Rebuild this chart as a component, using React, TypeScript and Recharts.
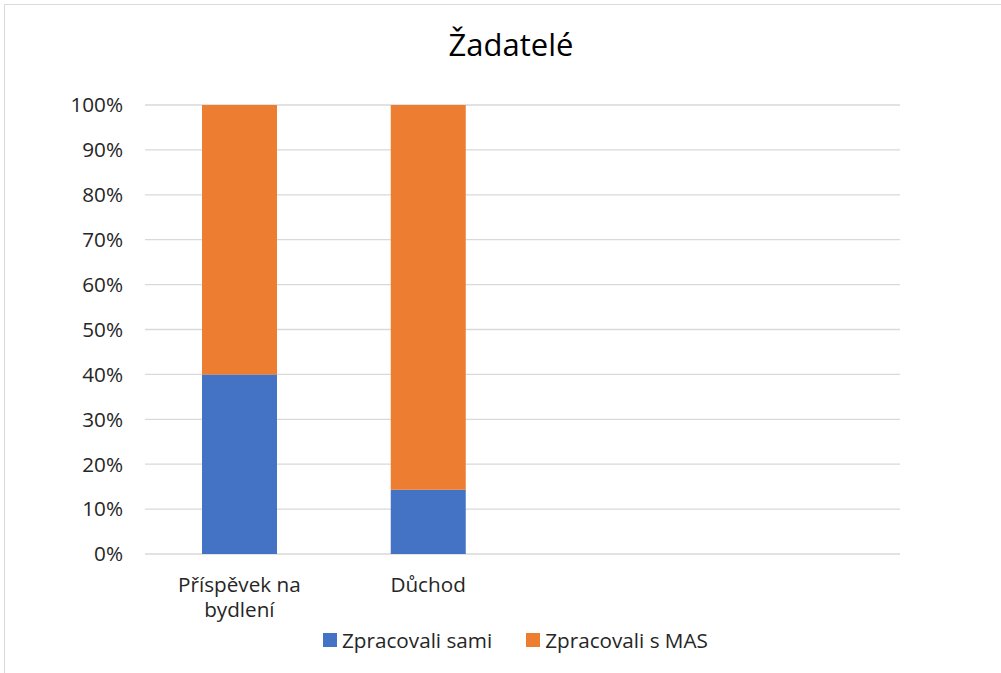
import { BarChart, Bar, XAxis, YAxis, CartesianGrid } from 'recharts';

const categories = ['Příspěvek na bydlení', 'Důchod', ' ', '  '];
const xTickLines = [['Příspěvek na', 'bydlení'], ['Důchod'], [], []];
const samiValues = [40, 14.3, null, null];
const masValues = [60, 85.7, null, null];
const yTicks = [0, 10, 20, 30, 40, 50, 60, 70, 80, 90, 100];
const seriesNames = ['Zpracovali sami', 'Zpracovali s MAS'];
const seriesColors = ['#4472C4', '#ED7D31'];

const FONT = '"Open Sans", sans-serif';
const TEXT = '#262626';
const FS = 20.7;

const data = categories.map((name, i) => ({
  name,
  sami: samiValues[i],
  mas: masValues[i],
}));

function XTick({ x, y, payload, index }: any) {
  const lines = xTickLines[payload?.index ?? index] || [];
  return (
    <text x={x} y={y} textAnchor="middle" fontSize={FS} fill={TEXT} fontFamily={FONT}>
      {lines.map((line, i) => (
        <tspan key={i} x={x} dy={i === 0 ? 30 : 25}>
          {line}
        </tspan>
      ))}
    </text>
  );
}

export default function App() {
  return (
    <div
      style={{
        position: 'absolute',
        left: 0,
        top: 0,
        width: 1001,
        height: 673,
        overflow: 'hidden',
        background: '#fff',
        fontFamily: FONT,
      }}
    >
      <div
        style={{
          position: 'absolute',
          left: 4,
          top: 4,
          width: 1030,
          height: 700,
          border: '1px solid #d9d9d9',
        }}
      />
      <div
        style={{
          position: 'absolute',
          left: 311,
          width: 400,
          top: 24,
          textAlign: 'center',
          fontSize: 31,
          color: '#000',
          lineHeight: '40px',
        }}
      >
        Žadatelé
      </div>
      <div style={{ position: 'absolute', left: 0, top: 0 }}>
        <BarChart
          width={1001}
          height={673}
          data={data}
          margin={{ top: 105, right: 101, bottom: 0, left: 0 }}
          barSize={75}
        >
          <CartesianGrid vertical={false} stroke="#d9d9d9" strokeWidth={1.3} />
          <XAxis
            dataKey="name"
            height={119}
            axisLine={false}
            tickLine={false}
            interval={0}
            tick={<XTick />}
          />
          <YAxis
            width={145}
            domain={[0, 100]}
            ticks={yTicks}
            interval={0}
            axisLine={false}
            tickLine={false}
            tickMargin={16}
            tickFormatter={(v) => `${v}%`}
            tick={{ fontSize: FS, fill: TEXT, fontFamily: FONT }}
          />
          <Bar dataKey="sami" stackId="a" fill={seriesColors[0]} isAnimationActive={false} />
          <Bar dataKey="mas" stackId="a" fill={seriesColors[1]} isAnimationActive={false} />
        </BarChart>
      </div>
      <div
        style={{
          position: 'absolute',
          left: 323,
          top: 626,
          display: 'flex',
          alignItems: 'center',
          fontSize: FS,
          color: TEXT,
          lineHeight: '28px',
        }}
      >
        {seriesNames.map((n, i) => (
          <div key={n} style={{ display: 'flex', alignItems: 'center', marginRight: 34 }}>
            <span
              style={{
                display: 'inline-block',
                width: 14,
                height: 14,
                background: seriesColors[i],
                marginRight: 5,
              }}
            />
            <span>{n}</span>
          </div>
        ))}
      </div>
    </div>
  );
}
